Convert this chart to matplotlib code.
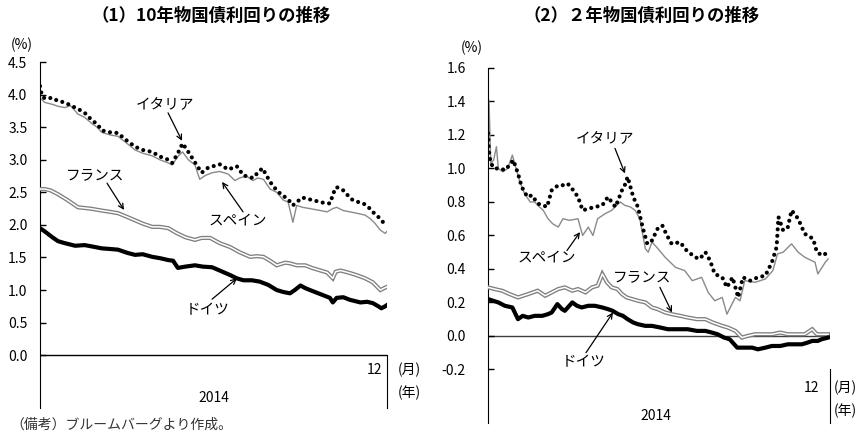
import matplotlib
matplotlib.use("Agg")
import matplotlib.pyplot as plt

plt.rcParams['font.family'] = ['Noto Sans CJK JP', 'DejaVu Sans']
plt.rcParams['axes.unicode_minus'] = False

# ---- (1) 10年物国債利回り (day of 2014, %) ----
it10_day = [0, 2, 5, 13, 19, 26, 34, 40, 47, 55, 60, 65, 74, 82, 89, 100, 108, 118, 126, 135,
            139, 145, 150, 156, 163, 170, 177, 182, 189, 198, 207, 214, 224, 229, 234, 242, 249,
            255, 260, 266, 270, 276, 281, 287, 295, 301, 305, 309, 312, 319, 324, 329, 335, 340,
            345, 350, 356, 361, 364]
it10 = [4.13, 3.98, 3.94, 3.95, 3.90, 3.88, 3.82, 3.78, 3.72, 3.60, 3.55, 3.45, 3.42, 3.41, 3.32,
        3.20, 3.15, 3.12, 3.05, 3.00, 2.95, 3.10, 3.25, 3.12, 2.96, 2.80, 2.88, 2.90, 2.93, 2.85,
        2.90, 2.76, 2.72, 2.80, 2.87, 2.66, 2.53, 2.45, 2.41, 2.30, 2.35, 2.42, 2.40, 2.38, 2.35,
        2.33, 2.33, 2.50, 2.58, 2.53, 2.45, 2.38, 2.35, 2.33, 2.28, 2.20, 2.12, 2.04, 2.00]

es10_day = [0, 5, 13, 19, 26, 32, 40, 47, 55, 60, 65, 74, 82, 89, 100, 108, 118, 126, 135, 139,
            145, 150, 156, 163, 168, 174, 181, 189, 198, 205, 210, 217, 224, 229, 235, 242, 249,
            256, 261, 266, 270, 276, 284, 295, 302, 308, 312, 319, 326, 333, 342, 347, 352, 358,
            363, 365]
es10 = [3.95, 3.88, 3.85, 3.82, 3.80, 3.83, 3.70, 3.65, 3.55, 3.50, 3.42, 3.38, 3.36, 3.28, 3.15,
        3.10, 3.06, 3.00, 2.95, 2.92, 3.05, 3.12, 3.00, 2.92, 2.70, 2.76, 2.80, 2.82, 2.78, 2.68,
        2.72, 2.75, 2.68, 2.72, 2.70, 2.55, 2.50, 2.38, 2.35, 2.04, 2.30, 2.27, 2.25, 2.22, 2.20,
        2.25, 2.27, 2.22, 2.20, 2.18, 2.15, 2.10, 2.03, 1.92, 1.87, 1.90]

fr10_day = [0, 5, 11, 19, 29, 40, 53, 65, 74, 82, 92, 100, 108, 118, 126, 135, 143, 153, 163, 170,
            179, 189, 200, 210, 221, 228, 235, 242, 249, 258, 263, 270, 279, 286, 295, 302, 308,
            311, 316, 324, 333, 342, 350, 358, 362, 365]
fr10 = [2.55, 2.55, 2.53, 2.47, 2.38, 2.27, 2.25, 2.22, 2.20, 2.18, 2.12, 2.07, 2.02, 1.97, 1.97,
        1.95, 1.88, 1.81, 1.77, 1.80, 1.80, 1.72, 1.66, 1.58, 1.51, 1.52, 1.51, 1.45, 1.38, 1.42,
        1.41, 1.38, 1.38, 1.34, 1.30, 1.27, 1.18, 1.28, 1.30, 1.27, 1.23, 1.18, 1.12, 1.00, 1.03,
        1.05]

de10_day = [0, 5, 13, 19, 26, 37, 47, 58, 65, 74, 82, 92, 100, 108, 118, 126, 135, 140, 145, 153,
            163, 171, 181, 189, 200, 207, 214, 223, 231, 240, 249, 256, 263, 268, 274, 279, 284,
            291, 298, 305, 308, 312, 319, 326, 337, 344, 350, 356, 359, 363, 365]
de10 = [1.95, 1.90, 1.81, 1.75, 1.72, 1.68, 1.69, 1.66, 1.64, 1.63, 1.62, 1.57, 1.54, 1.55, 1.51,
        1.49, 1.46, 1.45, 1.34, 1.36, 1.38, 1.36, 1.35, 1.30, 1.23, 1.18, 1.15, 1.15, 1.13, 1.08,
        1.00, 0.97, 0.95, 1.00, 1.07, 1.03, 1.00, 0.96, 0.92, 0.88, 0.81, 0.88, 0.89, 0.85, 0.81,
        0.82, 0.80, 0.75, 0.72, 0.75, 0.77]

# ---- (2) 2年物国債利回り ----
it2_day = [0, 1, 3, 7, 13, 18, 23, 27, 32, 36, 42, 47, 53, 59, 63, 68, 75, 80, 85, 91, 96, 101,
           107, 114, 122, 128, 136, 143, 146, 149, 155, 160, 165, 170, 175, 181, 186, 191, 196,
           205, 212, 221, 226, 232, 237, 242, 250, 255, 261, 267, 272, 280, 288, 296, 303, 308,
           310, 315, 320, 324, 331, 338, 347, 351, 357, 363]
it2 = [1.21, 1.10, 1.03, 1.00, 1.00, 0.99, 1.02, 1.05, 0.97, 0.89, 0.83, 0.84, 0.79, 0.78, 0.77,
       0.87, 0.90, 0.90, 0.91, 0.87, 0.83, 0.75, 0.76, 0.77, 0.78, 0.83, 0.77, 0.87, 0.90, 0.95,
       0.83, 0.77, 0.65, 0.55, 0.57, 0.64, 0.66, 0.60, 0.55, 0.56, 0.51, 0.47, 0.46, 0.50, 0.45,
       0.37, 0.35, 0.29, 0.35, 0.23, 0.35, 0.33, 0.35, 0.36, 0.44, 0.53, 0.71, 0.63, 0.65, 0.75,
       0.70, 0.61, 0.58, 0.50, 0.48, 0.50]

es2_day = [0, 1, 3, 6, 9, 11, 16, 21, 26, 30, 34, 39, 45, 50, 53, 59, 64, 69, 75, 80, 87, 96, 101,
           107, 112, 117, 125, 132, 141, 146, 152, 157, 162, 168, 171, 175, 180, 189, 200, 210,
           218, 228, 235, 242, 250, 255, 264, 269, 274, 285, 296, 304, 309, 315, 324, 331, 338,
           349, 352, 360, 363]
es2 = [1.05, 1.41, 1.03, 1.05, 1.13, 1.00, 0.98, 1.00, 1.08, 1.00, 0.92, 0.85, 0.80, 0.80, 0.78,
       0.75, 0.70, 0.67, 0.65, 0.70, 0.69, 0.70, 0.60, 0.65, 0.60, 0.70, 0.73, 0.75, 0.80, 0.78,
       0.77, 0.75, 0.70, 0.52, 0.50, 0.56, 0.53, 0.47, 0.41, 0.39, 0.33, 0.35, 0.26, 0.21, 0.23,
       0.13, 0.23, 0.21, 0.33, 0.32, 0.34, 0.39, 0.49, 0.50, 0.55, 0.50, 0.47, 0.44, 0.37, 0.44,
       0.46]

fr2_day = [0, 7, 15, 23, 32, 43, 53, 61, 68, 75, 82, 90, 96, 104, 111, 117, 122, 127, 132, 138,
           143, 148, 154, 160, 168, 175, 181, 189, 196, 205, 213, 223, 232, 240, 250, 256, 264,
           271, 277, 285, 293, 303, 312, 320, 328, 338, 346, 351, 356, 363]
fr2 = [0.29, 0.28, 0.27, 0.25, 0.23, 0.25, 0.27, 0.24, 0.26, 0.28, 0.29, 0.27, 0.28, 0.26, 0.29,
       0.30, 0.37, 0.32, 0.29, 0.28, 0.25, 0.23, 0.22, 0.21, 0.20, 0.17, 0.16, 0.14, 0.13, 0.12,
       0.11, 0.10, 0.10, 0.08, 0.06, 0.05, 0.03, -0.01, 0.00, 0.01, 0.01, 0.01, 0.02, 0.01, 0.01,
       0.01, 0.04, 0.01, 0.01, 0.01]

de2_day = [0, 11, 18, 26, 32, 37, 43, 50, 58, 64, 68, 74, 79, 82, 90, 95, 100, 107, 114, 122, 128,
           133, 139, 144, 149, 155, 160, 168, 175, 184, 192, 203, 213, 223, 232, 239, 245, 252,
           258, 266, 274, 282, 288, 296, 303, 312, 320, 328, 335, 341, 346, 352, 356, 363]
de2 = [0.22, 0.20, 0.18, 0.17, 0.10, 0.12, 0.11, 0.12, 0.12, 0.13, 0.14, 0.19, 0.16, 0.15, 0.20,
       0.18, 0.17, 0.18, 0.18, 0.17, 0.16, 0.15, 0.13, 0.12, 0.10, 0.08, 0.07, 0.06, 0.06, 0.05,
       0.04, 0.04, 0.04, 0.03, 0.03, 0.02, 0.01, -0.01, -0.02, -0.07, -0.07, -0.07, -0.08, -0.07,
       -0.06, -0.06, -0.05, -0.05, -0.05, -0.04, -0.03, -0.03, -0.02, -0.01]

yticks10 = [0.0, 0.5, 1.0, 1.5, 2.0, 2.5, 3.0, 3.5, 4.0, 4.5]
yticks2 = [-0.2, 0.0, 0.2, 0.4, 0.6, 0.8, 1.0, 1.2, 1.4, 1.6]

W, H = 867, 441
fig = plt.figure(figsize=(W / 100, H / 100), dpi=100)


def px_axes(x0, x1, y0, y1):
    return fig.add_axes([x0 / W, 1 - y1 / H, (x1 - x0) / W, (y1 - y0) / H])


def draw(ax, data, zero_color):
    (itd, itv), (esd, esv), (frd, frv), (ded, dev) = data
    ax.axhline(0, color=zero_color, lw=1.0, zorder=1)
    ax.plot(esd, esv, color='#8a8a8a', lw=1.0, zorder=2)
    ax.plot(frd, frv, color='#7f7f7f', lw=3.0, zorder=3, solid_joinstyle='miter')
    ax.plot(frd, frv, color='white', lw=1.1, zorder=3)
    ax.plot(ded, dev, color='black', lw=3.0, zorder=4)
    ax.plot(itd, itv, color='black', lw=3.0, zorder=5,
            linestyle=(0, (0.001, 1.55)), dash_capstyle='round')
    ax.set_xlim(0, 365)
    ax.set_xticks([])
    for s in ['top', 'bottom']:
        ax.spines[s].set_visible(False)
    ax.tick_params(axis='y', direction='in', length=4, width=1, labelsize=10)


def arrow(ax, label, text_xy, tail, head):
    ax.text(*text_xy, label, ha='center', va='center', fontsize=10.5)
    ax.annotate('', xy=head, xytext=tail,
                arrowprops=dict(arrowstyle='->', color='black', lw=0.9,
                                shrinkA=0, shrinkB=0, mutation_scale=9))


# left panel
ax1 = px_axes(40, 387, 62, 408)
draw(ax1, [(it10_day, it10), (es10_day, es10), (fr10_day, fr10), (de10_day, de10)], 'black')
ax1.set_ylim(-0.81, 4.5)
ax1.set_yticks(yticks10)
ax1.set_yticklabels([f'{v:.1f}' for v in yticks10])
ax1.tick_params(axis='y', pad=9)
ax1.spines['right'].set_bounds(-0.81, 0)
arrow(ax1, 'イタリア', (131, 3.86), (134.7, 3.72), (149.4, 3.29))
arrow(ax1, 'スペイン', (208, 2.07), (213.6, 2.20), (191.5, 2.66))
arrow(ax1, 'フランス', (58, 2.76), (70.5, 2.64), (88.4, 2.23))
arrow(ax1, 'ドイツ', (176, 0.69), (181, 0.86), (207.2, 1.18))
ax1.text(0.985, 0.11, '12', transform=ax1.transAxes, ha='right', va='center', fontsize=10)
ax1.text(0.5, 0.03, '2014', transform=ax1.transAxes, ha='center', va='center', fontsize=10)
ax1.text(1.03, 0.11, '(月)', transform=ax1.transAxes, ha='left', va='center', fontsize=10)
ax1.text(1.03, 0.043, '(年)', transform=ax1.transAxes, ha='left', va='center', fontsize=10)

# right panel
ax2 = px_axes(488, 830, 68, 423)
draw(ax2, [(it2_day, it2), (es2_day, es2), (fr2_day, fr2), (de2_day, de2)], '#404040')
ax2.set_ylim(-0.52, 1.6)
ax2.set_yticks(yticks2)
ax2.set_yticklabels([f'{v:.1f}' for v in yticks2])
ax2.tick_params(axis='y', pad=16)
ax2.spines['right'].set_bounds(-0.52, -0.2)
arrow(ax2, 'イタリア', (125, 1.18), (135.5, 1.12), (146.2, 0.97))
arrow(ax2, 'スペイン', (63, 0.47), (84.3, 0.51), (98.2, 0.62))
arrow(ax2, 'フランス', (165, 0.35), (183.5, 0.29), (196.3, 0.14))
arrow(ax2, 'ドイツ', (102, -0.16), (104.6, -0.10), (133.4, 0.14))
ax2.text(0.97, 0.099, '12', transform=ax2.transAxes, ha='right', va='center', fontsize=10)
ax2.text(0.49, 0.02, '2014', transform=ax2.transAxes, ha='center', va='center', fontsize=10)
ax2.text(1.012, 0.099, '(月)', transform=ax2.transAxes, ha='left', va='center', fontsize=10)
ax2.text(1.012, 0.034, '(年)', transform=ax2.transAxes, ha='left', va='center', fontsize=10)

# titles, units, note
fig.text(211 / W, 1 - 16 / H, '（1）10年物国債利回りの推移', ha='center', va='center',
         fontsize=12.5, weight='bold')
fig.text(642 / W, 1 - 16 / H, '（2）２年物国債利回りの推移', ha='center', va='center',
         fontsize=12.5, weight='bold')
fig.text(22 / W, 1 - 45 / H, '(%)', ha='center', va='center', fontsize=10)
fig.text(472 / W, 1 - 48 / H, '(%)', ha='center', va='center', fontsize=10)
fig.text(10 / W, 1 - 425 / H, '（備考）ブルームバーグより作成。', ha='left', va='center',
         fontsize=10, color='#333333')

fig.savefig('out.png', dpi=100)
